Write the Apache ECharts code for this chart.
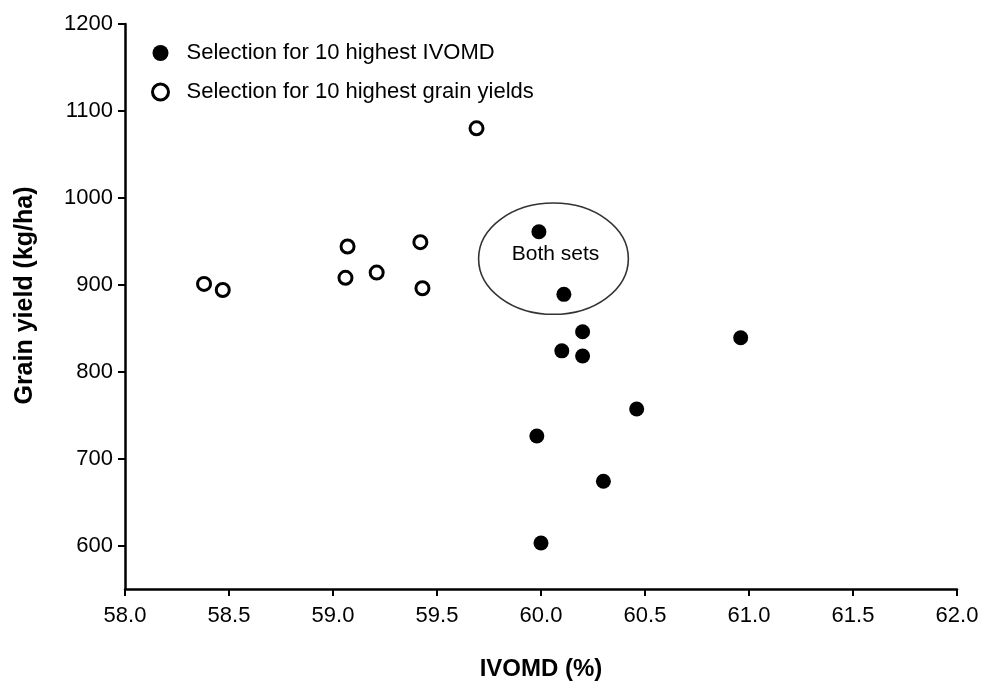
<!DOCTYPE html>
<html>
<head>
<meta charset="utf-8">
<script src="https://cdn.jsdelivr.net/npm/echarts@6/dist/echarts.min.js"></script>
<style>
  html, body { margin: 0; padding: 0; background: #fff; }
  #chart { width: 1000px; height: 693px; }
</style>
</head>
<body>
<div id="chart"></div>
<script>

// values
const ivomdSelX = [59.99, 60.11, 60.20, 60.10, 60.20, 60.96, 60.46, 59.98, 60.30, 60.00];
const ivomdSelY = [961, 889, 846, 824, 818, 839, 757, 726, 674, 603];

const yieldSelX = [59.69, 59.07, 59.42, 59.06, 59.21, 59.43, 58.38, 58.47];
const yieldSelY = [1080, 944, 949, 908, 914, 896, 901, 894];

const yTicks = [600, 700, 800, 900, 1000, 1100, 1200];

// the ring drawn round the two points in both sets (data units)
const bothCenter = [60.06, 930];
const bothRadius = [0.36, 64];
const bothLabel = 'Both sets';

function toPairs(xs, ys) {
    return xs.map((x, i) => [x, ys[i]]);
}

const font = 'Liberation Sans, Arial, sans-serif';

var myChart = echarts.init(document.getElementById('chart'));

var option = {
    animation: false,
    backgroundColor: '#fff',
    textStyle: { fontFamily: font },
    grid: { left: 125, right: 43, top: 24, bottom: 104 },
    legend: {
        orient: 'vertical',
        left: 146,
        top: 37,
        itemGap: 17,
        itemWidth: 16,
        itemHeight: 16,
        textStyle: { fontSize: 22, color: '#000', fontFamily: font, padding: [0, 0, 0, 13] },
        data: [
            { name: 'Selection for 10 highest IVOMD', itemStyle: { color: '#000', opacity: 1 } },
            { name: 'Selection for 10 highest grain yields', itemStyle: { color: '#fff', borderColor: '#000', borderWidth: 3, opacity: 1 } }
        ]
    },
    xAxis: {
        type: 'value',
        min: 58,
        max: 62,
        interval: 0.5,
        name: 'IVOMD (%)',
        nameLocation: 'middle',
        nameGap: 68,
        nameTextStyle: { fontSize: 24, fontWeight: 'bold', color: '#000', fontFamily: font },
        axisLine: { lineStyle: { color: '#000', width: 2.5 } },
        axisTick: { length: 7, lineStyle: { color: '#000', width: 2 } },
        axisLabel: {
            fontSize: 22, color: '#000', margin: 16,
            formatter: v => v.toFixed(1)
        },
        splitLine: { show: false }
    },
    yAxis: {
        type: 'value',
        min: 550,
        max: 1200,
        name: 'Grain yield (kg/ha)',
        nameLocation: 'middle',
        nameGap: 87,
        nameTextStyle: {
            fontSize: 25, fontWeight: 'bold', color: '#000', fontFamily: font,
            padding: [0, 0, 0, 22]
        },
        axisLine: { lineStyle: { color: '#000', width: 2.5 } },
        axisTick: { length: 7, lineStyle: { color: '#000', width: 2 }, customValues: yTicks },
        axisLabel: {
            fontSize: 22, color: '#000', margin: 12, customValues: yTicks,
            formatter: v => String(v)
        },
        splitLine: { show: false }
    },
    series: [
        {
            name: 'Selection for 10 highest IVOMD',
            type: 'scatter',
            symbol: 'circle',
            symbolSize: 15,
            itemStyle: { color: '#000', opacity: 1 },
            data: toPairs(ivomdSelX, ivomdSelY),
            z: 3
        },
        {
            name: 'Selection for 10 highest grain yields',
            type: 'scatter',
            symbol: 'circle',
            symbolSize: 13,
            itemStyle: { color: '#fff', borderColor: '#000', borderWidth: 3, opacity: 1 },
            data: toPairs(yieldSelX, yieldSelY),
            z: 3
        },
        {
            type: 'custom',
            silent: true,
            z: 2,
            data: [[bothCenter[0], bothCenter[1], bothRadius[0], bothRadius[1]]],
            renderItem: function (params, api) {
                const c = api.coord([api.value(0), api.value(1)]);
                const s = api.size([api.value(2), api.value(3)]);
                return {
                    type: 'group',
                    children: [
                        {
                            type: 'ellipse',
                            shape: { cx: c[0], cy: c[1], rx: s[0], ry: s[1] },
                            style: { fill: null, stroke: '#333', lineWidth: 1.6 }
                        },
                        {
                            type: 'text',
                            x: c[0] + 2,
                            y: c[1] - 4,
                            style: {
                                text: bothLabel,
                                fill: '#000',
                                fontSize: 21,
                                fontFamily: font,
                                align: 'center',
                                verticalAlign: 'middle'
                            }
                        }
                    ]
                };
            }
        }
    ]
};

myChart.setOption(option);

</script>
</body>
</html>
